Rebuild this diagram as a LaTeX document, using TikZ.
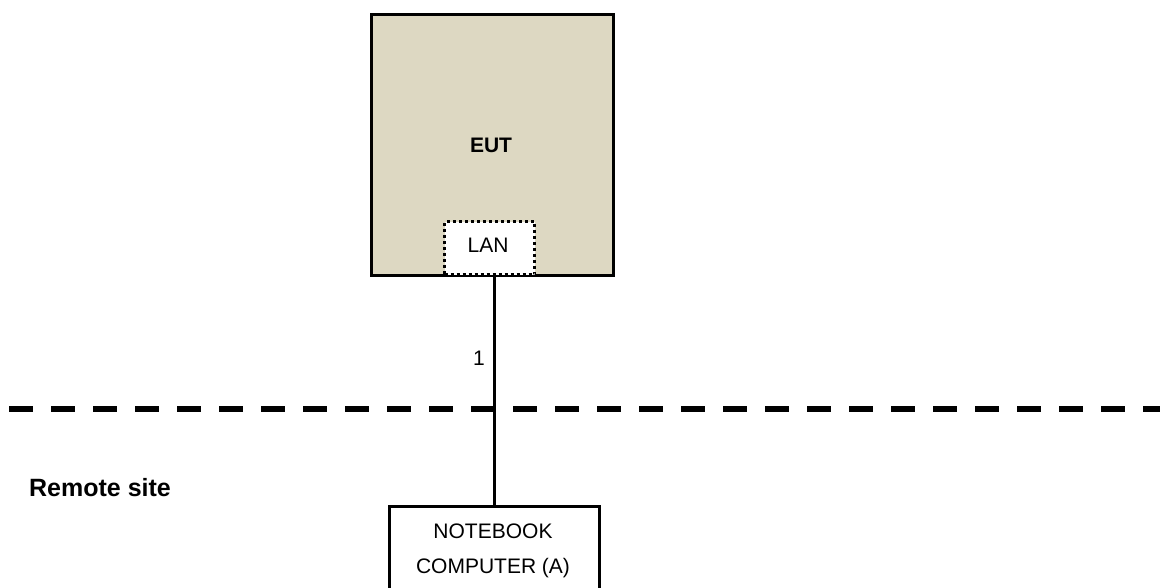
\documentclass[tikz,border=0pt]{standalone}
\usepackage{fontspec}
\setmainfont{Liberation Sans}
\definecolor{euttan}{RGB}{221,216,194}
\tikzset{
  txt/.style={inner sep=0pt, font=\fontsize{21}{25}\selectfont},
  btxt/.style={inner sep=0pt, font=\fontsize{21}{25}\selectfont\bfseries},
  eutbox/.style={draw, line width=3pt, fill=euttan, inner sep=0pt},
  lanbox/.style={draw, line width=3pt, dash pattern=on 3pt off 3pt, fill=white, inner sep=0pt},
  nbbox/.style={draw, line width=3pt, fill=white, inner sep=0pt},
  cable/.style={line width=3pt},
  sitesep/.style={line width=6pt, dash pattern=on 24pt off 18pt}
}
\begin{document}
\begin{tikzpicture}[x=1pt,y=-1pt]
\useasboundingbox (0,0) rectangle (1160,587);
\clip (0,0) rectangle (1160,587);
% EUT
\node[eutbox, minimum width=242pt, minimum height=261pt, anchor=north west] (eut) at (370,13) {};
\node[btxt, anchor=base] (euttext) at (491,152) {EUT};
\node[lanbox, minimum width=90pt, minimum height=53pt, anchor=north west] (lan) at (443,220) {};
\node[txt, anchor=base] (lantext) at (488,252) {LAN};
% notebook
\node[nbbox, minimum width=210pt, minimum height=110pt, anchor=north west] (nb) at (388,505) {};
\node[txt, anchor=base] (nb1) at (493,538) {NOTEBOOK};
\node[txt, anchor=base] (nb2) at (493,573) {COMPUTER (A)};
% cable
\draw[cable] (nb.north) -- (nb.north |- eut.south);
\node[txt, anchor=base east] (c1) at (485,365) {1};
% site separator
\coordinate (sepL) at (9,409);
\coordinate (sepR) at (1165,409);
\draw[sitesep] (sepL) -- (sepR);
\node[inner sep=0pt, font=\fontsize{25}{30}\selectfont\bfseries, anchor=base west] (remote) at (29,496) {Remote site};
\end{tikzpicture}
\end{document}
